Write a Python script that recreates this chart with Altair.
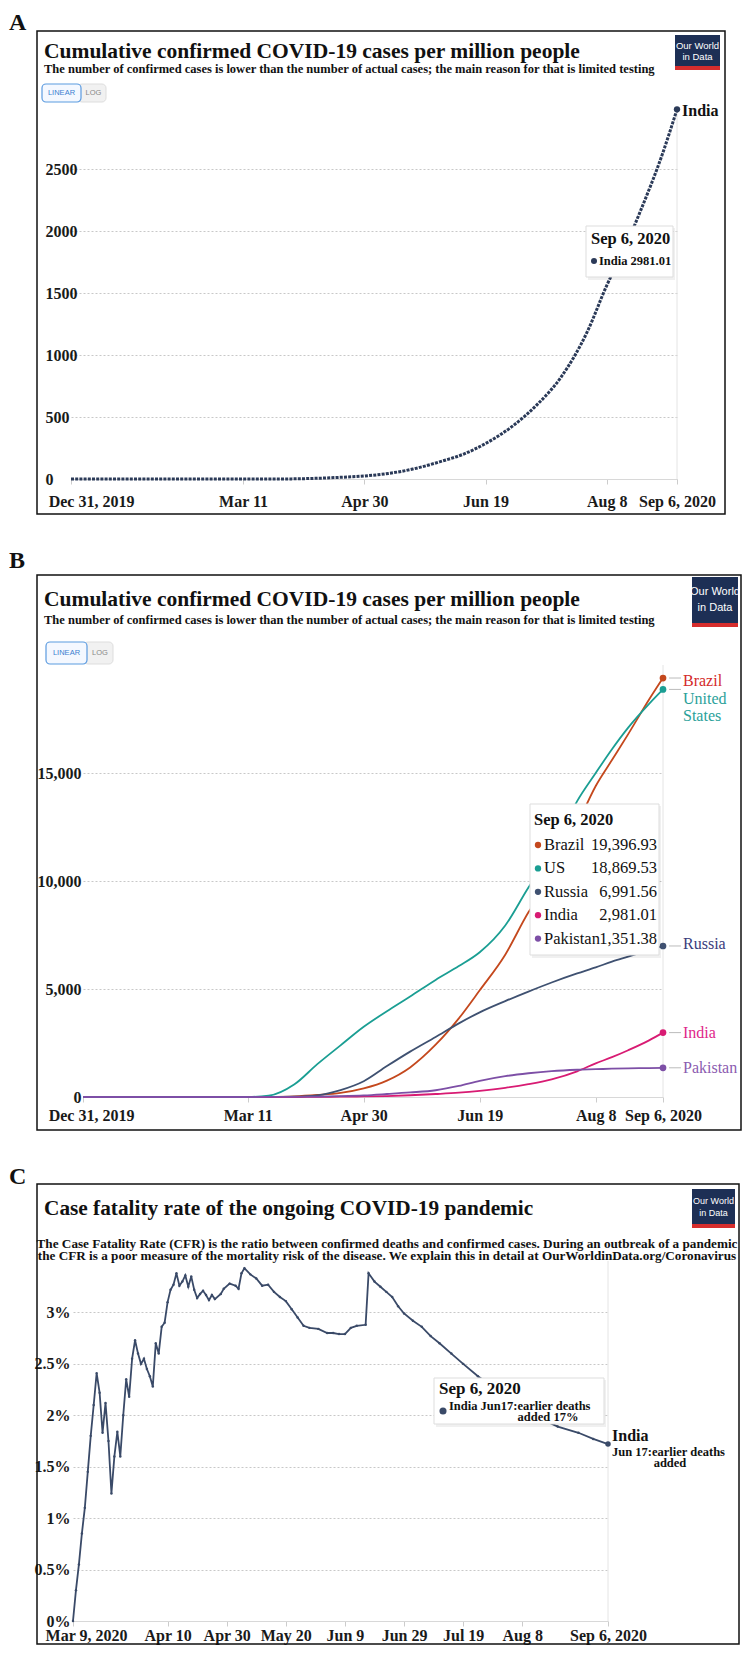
import altair as alt
import pandas as pd

# ------------------------------------------------------------------ data
case_dates = ["2019-12-31", "2020-01-31", "2020-02-29", "2020-03-11", "2020-03-20", "2020-03-31",
              "2020-04-10", "2020-04-20", "2020-04-30", "2020-05-10", "2020-05-20", "2020-05-31",
              "2020-06-10", "2020-06-19", "2020-06-30", "2020-07-10", "2020-07-20", "2020-07-31",
              "2020-08-08", "2020-08-15", "2020-08-22", "2020-08-31", "2020-09-06"]
india_pm = [0, 0.001, 0.002, 0.05, 0.18, 1.0, 5.3, 13.3, 24.5, 45, 80, 138, 201, 286, 424, 594,
            817, 1188, 1560, 1843, 2165, 2622, 2981.01]
us_pm = [0, 0.02, 0.2, 3.9, 58, 575, 1520, 2390, 3250, 3970, 4650, 5420, 6060, 6700, 7940, 9700,
         11300, 13700, 15000, 16100, 17100, 18200, 18869.53]
brazil_pm = [0, 0, 0.005, 0.17, 4.5, 27, 92, 190, 400, 760, 1370, 2420, 3640, 4940, 6590, 8550,
             10100, 12600, 14400, 15600, 16800, 18400, 19396.93]
russia_pm = [0, 0.01, 0.01, 0.14, 1.7, 16, 80, 320, 730, 1430, 2100, 2780, 3410, 3920, 4440, 4880,
             5300, 5720, 6000, 6270, 6500, 6800, 6991.56]
pakistan_pm = [0, 0, 0.018, 0.09, 2.2, 8.8, 20, 40, 74, 138, 210, 313, 510, 747, 965, 1100, 1200,
               1262, 1286, 1310, 1325, 1340, 1351.38]

cfr_start = "2020-03-09"
cfr_day = [0, 1, 2, 3, 4, 5, 6, 7, 8, 9, 10, 11, 12, 13, 14, 15, 16, 17, 18, 19, 20, 21, 22, 23, 24,
           25, 26, 27, 28, 29, 30, 31, 32, 33, 34, 35, 36, 37, 38, 39, 40, 41, 42, 43, 44, 45, 46,
           47, 48, 50, 51, 53, 55, 56, 57, 58, 60, 62, 64, 66, 68, 70, 72, 74, 76, 78, 80, 83, 86,
           88, 90, 92, 94, 96, 99, 100, 102, 104, 106, 108, 110, 112, 115, 118, 121, 124, 128, 132,
           137, 145, 152, 158, 164, 171, 176, 181]
cfr_pct = [0.0, 0.3, 0.55, 0.85, 1.1, 1.45, 1.8, 2.1, 2.41,
           2.22, 1.83, 2.12, 1.75, 1.24, 1.6, 1.84, 1.6, 2.0, 2.35,
           2.18, 2.55, 2.73, 2.6, 2.5, 2.55, 2.45, 2.38, 2.28, 2.7,
           2.6, 2.86, 2.9, 3.1, 3.22, 3.27, 3.38, 3.26, 3.3, 3.36,
           3.25, 3.35, 3.22, 3.14, 3.18, 3.21, 3.17, 3.12, 3.17, 3.13,
           3.18, 3.23, 3.28, 3.26, 3.23, 3.38, 3.43,
           3.37, 3.33, 3.26, 3.27, 3.2, 3.15, 3.11, 3.03, 2.95, 2.87, 2.85,
           2.84, 2.8, 2.8, 2.79, 2.79, 2.85, 2.87, 2.88,
           3.38, 3.3, 3.25, 3.2, 3.15, 3.06, 2.99,
           2.92, 2.86, 2.77, 2.7, 2.6, 2.5, 2.38,
           2.22, 2.08, 1.97, 1.89, 1.83, 1.77, 1.72]

series_names = ["Brazil", "United States", "Russia", "India", "Pakistan"]
series_vals = [brazil_pm, us_pm, russia_pm, india_pm, pakistan_pm]
line_colors = ["#c4481d", "#1a9e93", "#3f5171", "#d81b73", "#7d4fa6"]
label_colors = ["#d42a2a", "#2aa19a", "#3a3c7c", "#e0278a", "#8b5bb0"]
tt_names = ["Brazil", "US", "Russia", "India", "Pakistan"]

title_cases = "Cumulative confirmed COVID-19 cases per million people"
sub_cases = ("The number of confirmed cases is lower than the number of actual cases; "
             "the main reason for that is limited testing")
title_cfr = "Case fatality rate of the ongoing COVID-19 pandemic"
sub_cfr1 = ("The Case Fatality Rate (CFR) is the ratio between confirmed deaths and confirmed cases. "
            "During an outbreak of a pandemic")
sub_cfr2 = ("the CFR is a poor measure of the mortality risk of the disease. "
            "We explain this in detail at OurWorldinData.org/Coronavirus")

# ------------------------------------------------------------------ helpers
SERIF = "Liberation Serif"
SANSN = "Liberation Sans Narrow, Liberation Sans, sans-serif"
NAVY = "#2b3a58"
one = pd.DataFrame({"k": [0]})


def utc(y, m, d):
    return alt.DateTime(year=y, month=m, date=d, utc=True)


class Panel:
    """Collects layers; pixel annotations are given relative to the panel's plot start."""

    def __init__(self, sx):
        self.sx = sx
        self.layers = []

    def add(self, *ls):
        self.layers.extend(ls)

    def rect(self, x, x2, y, y2, **kw):
        self.add(alt.Chart(one).mark_rect(**kw).encode(
            x=alt.value(x + self.sx), x2=alt.value(x2 + self.sx),
            y=alt.value(y), y2=alt.value(y2)))

    def text(self, x, y, s, size, color="#111111", weight="bold", align="left",
             baseline="middle", font=SERIF):
        self.add(alt.Chart(one).mark_text(
            text=s, fontSize=size, fontWeight=weight, color=color, align=align,
            baseline=baseline, font=font).encode(x=alt.value(x + self.sx), y=alt.value(y)))

    def dot(self, x, y, color, size=40):
        self.add(alt.Chart(one).mark_circle(size=size, color=color, opacity=1).encode(
            x=alt.value(x + self.sx), y=alt.value(y)))

    def letter(self, y, s):
        self.add(alt.Chart(one).mark_text(
            text=s, fontSize=24, fontWeight="bold", color="#111111", align="left",
            baseline="top", font=SERIF).encode(x=alt.value(-62), y=alt.value(y)))

    def logo(self, x1, x2, y1, y2, fs):
        h = y2 - y1
        self.rect(x1, x2, y1, y2, fill="#1d2f55")
        self.rect(x1, x2, y2 - 4, y2, fill="#d62d2d")
        self.text((x1 + x2) / 2, y1 + h * 0.30, "Our World", fs, color="white",
                  weight="normal", align="center", font=SANSN)
        self.text((x1 + x2) / 2, y1 + h * 0.62, "in Data", fs, color="white",
                  weight="normal", align="center", font=SANSN)

    def buttons(self, x1, xm, x2, y1, y2):
        self.rect(xm - 3, x2, y1, y2, fill="#f1f1f1", stroke="#dddddd", strokeWidth=1, cornerRadius=4)
        self.rect(x1, xm, y1, y2, fill="#f4f8ff", stroke="#5b9be0", strokeWidth=1.2, cornerRadius=4)
        self.text((x1 + xm) / 2, (y1 + y2) / 2, "LINEAR", 7.5, color="#3b7fd0", weight="normal",
                  align="center", font=SANSN)
        self.text((xm + x2) / 2, (y1 + y2) / 2, "LOG", 7.5, color="#888888", weight="normal",
                  align="center", font=SANSN)

    def tipbox(self, x1, x2, y1, y2):
        self.rect(x1 + 2, x2 + 2, y1 + 2, y2 + 3, fill="#000000", opacity=0.06)
        self.rect(x1, x2, y1, y2, fill="white", stroke="#dddddd", strokeWidth=1)

    def border(self, x1, x2, y1, y2):
        self.rect(x1, x2, y1, y2, filled=False, stroke="#111111", strokeWidth=1.5)


LBL = ("(datum.index == 0 || datum.index == 1) ? utcFormat(datum.value, '%b %-d, %Y') "
       ": utcFormat(datum.value, '%b %-d')")


def cond_off(v):
    return {"condition": {"test": "datum.index == 0", "value": v}, "value": 0}


def xaxis(values, off, pad):
    return alt.Axis(values=values, labelExpr=LBL, labelOffset=cond_off(off), labelPadding=pad,
                    tickSize=5, grid=False, domainColor="#d8d8d8", tickColor="#cccccc",
                    labelOverlap=False, labelFlush=False, labelAlign="center")


def yaxis(values, fmt, align, pad, offset=0):
    return alt.Axis(values=values, format=fmt, labelAlign=align, labelPadding=pad, ticks=False,
                    domain=False, gridDash=[2, 2], gridColor="#c8c8c8", labelOverlap=False,
                    offset=offset)


# ------------------------------------------------------------------ panel A
WA, HA = 606, 372
dfA = pd.DataFrame({"date": case_dates, "v": india_pm})
lastA = dfA.tail(1).assign(label="India")
ticksAB = [utc(2019, 12, 31), utc(2020, 3, 11), utc(2020, 4, 30), utc(2020, 6, 19),
           utc(2020, 8, 8), utc(2020, 9, 6)]
xA = alt.X("date:T", title=None,
           scale=alt.Scale(type="utc", domain=[utc(2019, 12, 31), utc(2020, 9, 6)], range=[0, WA]),
           axis=xaxis(ticksAB, 20, 9))
yA = alt.Y("v:Q", title=None, scale=alt.Scale(domain=[0, 3000], nice=False),
           axis=yaxis([0, 500, 1000, 1500, 2000, 2500], "d", "left", 26))

pA = Panel(0)
pA.border(-34, 654, -76, 407)
pA.letter(-96, "A")
pA.text(-27, -55, title_cases, 21.5)
pA.text(-27, -38, sub_cases, 12.5)
pA.logo(604, 649, -72, -37, 9.5)
pA.buttons(-29, 10, 35, -23, -5)
pA.add(
    alt.Chart(lastA).mark_rule(color="#e4e4e4").encode(x=xA),
    alt.Chart(dfA).mark_line(color=NAVY, strokeWidth=3, strokeDash=[3, 1.2],
                             interpolate="monotone").encode(x=xA, y=yA),
    alt.Chart(lastA).mark_point(filled=True, size=40, color=NAVY, opacity=1).encode(x=xA, y=yA),
    alt.Chart(lastA).mark_text(align="left", dx=5, dy=2, font=SERIF, fontSize=16,
                               fontWeight="bold", color="#111111").encode(x=xA, y=yA, text="label:N"),
)
pA.tipbox(515, 602, 119, 170)
pA.text(520, 132, "Sep 6, 2020", 16.5)
pA.dot(523, 154, NAVY, 36)
pA.text(528, 154, "India 2981.01", 12.5)
chartA = alt.layer(*pA.layers).properties(width=WA, height=HA)

# ------------------------------------------------------------------ panel B
SB = 12
WB, HB = 580, 432
rows = []
for name, vals in zip(series_names, series_vals):
    for d, v in zip(case_dates, vals):
        rows.append({"date": d, "v": v, "country": name})
dfB = pd.DataFrame(rows)
lastB = dfB[dfB["date"] == case_dates[-1]]
xB = alt.X("date:T", title=None,
           scale=alt.Scale(type="utc", domain=[utc(2019, 12, 31), utc(2020, 9, 6)],
                           range=[SB, SB + WB]),
           axis=xaxis(ticksAB, 8, 5))
yB = alt.Y("v:Q", title=None, scale=alt.Scale(domain=[0, 20000], nice=False),
           axis=yaxis([0, 5000, 10000, 15000], ",.0f", "right", 2, offset=-SB))
colB = alt.Color("country:N", scale=alt.Scale(domain=series_names, range=line_colors), legend=None)

pB = Panel(SB)
pB.border(-46, 658, -90, 465)
pB.letter(-116, "B")
pB.text(-39, -65, title_cases, 21.5)
pB.text(-39, -45, sub_cases, 12.5)
pB.logo(609, 655, -88, -38, 11)
pB.buttons(-37, 4, 30, -23, -1)
pB.add(
    alt.Chart(lastB.head(1)).mark_rule(color="#e4e4e4").encode(x=xB),
    alt.Chart(dfB).mark_line(strokeWidth=1.8, interpolate="monotone").encode(
        x=xB, y=yB, color=colB, detail="country:N"),
    alt.Chart(lastB).mark_point(filled=True, size=45, opacity=1).encode(x=xB, y=yB, color=colB),
)
end_labels = [("Brazil", brazil_pm[-1], 3, label_colors[0]),
              ("United", us_pm[-1], 10, label_colors[1]),
              ("States", us_pm[-1], 27, label_colors[1]),
              ("Russia", russia_pm[-1], -2, label_colors[2]),
              ("India", india_pm[-1], 0, label_colors[3]),
              ("Pakistan", pakistan_pm[-1], 0, label_colors[4])]
for lab, val, dy, c in end_labels:
    d1 = pd.DataFrame({"date": [case_dates[-1]], "v": [val], "label": [lab]})
    pB.add(alt.Chart(d1).mark_text(align="left", dx=20, dy=dy, font=SERIF, fontSize=16,
                                   color=c).encode(x=xB, y=yB, text="label:N"))
    if lab != "States":
        pB.add(alt.Chart(d1).mark_rule(color="#bbbbbb").encode(
            x=alt.value(SB + WB + 6), x2=alt.value(SB + WB + 18), y=yB))
pB.tipbox(447, 576, 139, 290)
pB.text(451, 155, "Sep 6, 2020", 16.5)
for i, (nm, vals, c) in enumerate(zip(tt_names, series_vals, line_colors)):
    ty = 180 + 23.4 * i
    pB.dot(455, ty, c, 40)
    pB.text(461, ty, nm, 16.5, weight="normal")
    pB.text(574, ty, f"{vals[-1]:,.2f}", 16.5, weight="normal", align="right")
chartB = alt.layer(*pB.layers).properties(width=SB + WB, height=HB)

# ------------------------------------------------------------------ panel C
SC = 2
WC, HC = 535, 360
cfr_dates = (pd.Timestamp(cfr_start) + pd.to_timedelta(cfr_day, unit="D")).strftime("%Y-%m-%d")
dfC = pd.DataFrame({"date": list(cfr_dates), "v": [p / 100 for p in cfr_pct]})
lastC = dfC.tail(1)
ticksC = [utc(2020, 3, 9), utc(2020, 4, 10), utc(2020, 4, 30), utc(2020, 5, 20), utc(2020, 6, 9),
          utc(2020, 6, 29), utc(2020, 7, 19), utc(2020, 8, 8), utc(2020, 9, 6)]
xC = alt.X("date:T", title=None,
           scale=alt.Scale(type="utc", domain=[utc(2020, 3, 9), utc(2020, 9, 6)],
                           range=[SC, SC + WC]),
           axis=xaxis(ticksC, 13, 1))
yC = alt.Y("v:Q", title=None, scale=alt.Scale(domain=[0, 0.035], nice=False),
           axis=yaxis([0, 0.005, 0.01, 0.015, 0.02, 0.025, 0.03], ".1~%", "right", 3, offset=-SC))
CNAVY = "#3a4a68"
pC = Panel(SC)
pC.border(-36, 666, -77, 383)
pC.letter(-96, "C")
pC.text(-29, -52, title_cfr, 21.3)
pC.text(314, -17, sub_cfr1, 13.2, align="center")
pC.text(314, -5, sub_cfr2, 13.2, align="center")
pC.logo(619, 662, -72, -33, 9)
pC.add(
    alt.Chart(lastC).mark_rule(color="#e4e4e4").encode(x=xC),
    alt.Chart(dfC).mark_line(color=CNAVY, strokeWidth=1.8,
                             point=alt.OverlayMarkDef(filled=True, size=6, color=CNAVY)).encode(x=xC, y=yC),
    alt.Chart(lastC).mark_point(filled=True, size=30, color=CNAVY, opacity=1).encode(x=xC, y=yC),
    alt.Chart(lastC).mark_text(text="India", align="left", dx=4, dy=-8, font=SERIF, fontSize=16,
                               fontWeight="bold", color="#111111").encode(x=xC, y=yC),
    alt.Chart(lastC).mark_text(text="Jun 17:earlier deaths", align="left", dx=4, dy=8, font=SERIF,
                               fontSize=12.5, fontWeight="bold", color="#111111").encode(x=xC, y=yC),
    alt.Chart(lastC).mark_text(text="added", align="center", dx=62, dy=19, font=SERIF,
                               fontSize=12.5, fontWeight="bold", color="#111111").encode(x=xC, y=yC),
)
pC.tipbox(361, 531, 117, 163)
pC.text(366, 128, "Sep 6, 2020", 17)
pC.dot(370, 150, CNAVY, 50)
pC.text(376, 145, "India Jun17:earlier deaths", 12.5)
pC.text(475, 156, "added 17%", 12.5, align="center")
chartC = alt.layer(*pC.layers).properties(width=SC + WC, height=HC)

# ------------------------------------------------------------------ assemble
chart = alt.concat(chartA, chartB, chartC, columns=1, spacing=34).properties(
    padding={"left": 1, "top": 3, "right": 0, "bottom": 0}
).configure_view(strokeWidth=0).configure_axis(
    labelFont=SERIF, labelFontSize=16, labelFontWeight="bold", labelColor="#1a1a1a"
)

chart.save("out.html", embed_options={"renderer": "svg", "actions": False})
